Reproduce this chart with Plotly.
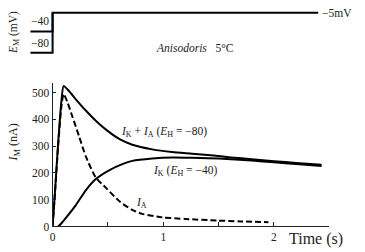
import plotly.graph_objects as go

# ---- data ----
# holding potentials step traces (top panel), mV
em_t_40 = [-0.2, 0.0, 0.0, 2.4]
em_v_40 = [-40, -40, -5, -5]
em_t_80 = [-0.2, 0.0, 0.0]
em_v_80 = [-80, -80, -5]

# I_K + I_A (E_H = -80), nA
t_sum = [0, 0.02, 0.05, 0.08, 0.1, 0.15, 0.21, 0.3, 0.39, 0.5, 0.61, 0.72, 0.9, 1.08, 1.26, 1.43, 1.61, 1.8, 2.0, 2.2, 2.43]
i_sum = [0, 120, 310, 470, 525, 505, 475, 433, 395, 356, 325, 305, 288, 278, 272, 266, 258, 251, 244, 237, 231]

# I_K (E_H = -40), nA
t_k = [0.05, 0.08, 0.12, 0.21, 0.3, 0.39, 0.51, 0.63, 0.72, 0.9, 1.08, 1.26, 1.5, 1.8, 2.0, 2.2, 2.43]
i_k = [0, 12, 32, 80, 135, 177, 210, 233, 245, 254, 258, 257, 254, 246, 240, 233, 226]

# I_A, nA
t_a = [0, 0.02, 0.05, 0.08, 0.1, 0.135, 0.18, 0.24, 0.3, 0.39, 0.48, 0.61, 0.72, 0.81, 0.99, 1.2, 1.49, 1.7, 1.95]
i_a = [0, 115, 300, 450, 495, 463, 409, 336, 262, 183, 145, 92, 62, 47, 34, 28, 22, 19, 16]

x_tickvals = [0, 0.5, 1, 1.5, 2, 2.5]
x_ticktext = ["0", "", "1", "", "2", ""]
y_tickvals = [0, 100, 200, 300, 400, 500]

FONT = "Liberation Serif, Times New Roman, serif"
W, H = 365, 252

fig = go.Figure()
line_style = dict(color="black", width=2)
fig.add_trace(go.Scatter(x=em_t_40, y=em_v_40, mode="lines", line=line_style, xaxis="x2", yaxis="y2"))
fig.add_trace(go.Scatter(x=em_t_80, y=em_v_80, mode="lines", line=line_style, xaxis="x2", yaxis="y2"))
fig.add_trace(go.Scatter(x=t_sum, y=i_sum, mode="lines", line=dict(color="black", width=2, shape="spline", smoothing=0.6)))
fig.add_trace(go.Scatter(x=t_k, y=i_k, mode="lines", line=dict(color="black", width=2, shape="spline", smoothing=0.6)))
fig.add_trace(go.Scatter(x=t_a, y=i_a, mode="lines", line=dict(color="black", width=2, dash="6px,3px", shape="spline", smoothing=0.6)))

# pixel helpers for paper coords
px = lambda p: p / W
py = lambda p: 1 - p / H

fig.update_layout(
    width=W, height=H,
    margin=dict(l=0, r=0, t=0, b=0),
    paper_bgcolor="white", plot_bgcolor="white",
    showlegend=False,
    font=dict(family=FONT, color="#222", size=11.5),
    xaxis=dict(domain=[px(50), px(329)], range=[0, 2.5], showline=True, linecolor="#222", linewidth=1.3,
               ticks="inside", ticklen=4, tickwidth=1, tickcolor="#222",
               tickvals=x_tickvals, ticktext=x_ticktext, showgrid=False, zeroline=False,
               tickfont=dict(size=11.5), anchor="y"),
    yaxis=dict(domain=[py(232), py(85)], range=[0, 536], showline=True, linecolor="#222", linewidth=1.3,
               ticks="inside", ticklen=3, tickwidth=1, tickcolor="#222",
               tickvals=y_tickvals, showgrid=False, zeroline=False,
               tickfont=dict(size=11.5), anchor="x"),
    xaxis2=dict(domain=[0, 1], range=[-50 / 111.6, 315 / 111.6], visible=False, anchor="y2"),
    yaxis2=dict(domain=[0.7, 1], range=[-119.4, 18.8], visible=False, anchor="x2"),
)

ann = [
    dict(x=px(37), y=py(22), text="−40", size=11.5),
    dict(x=px(37), y=py(44), text="−80", size=11.5),
    dict(x=px(337), y=py(13), text="−5mV", size=11.5),
    dict(x=px(194), y=py(49), text="<i>Anisodoris</i>   5°C", size=11.5),
    dict(x=px(162), y=py(135), text="<i>I</i><sub>K</sub> + <i>I</i><sub>A</sub> (<i>E</i><sub>H</sub> = −80)", size=11.5),
    dict(x=px(184), y=py(175), text="<i>I</i><sub>K</sub> (<i>E</i><sub>H</sub> = −40)", size=11.5),
    dict(x=px(140), y=py(208), text="<i>I</i><sub>A</sub>", size=11.5),
    dict(x=px(316), y=py(245), text="Time (s)", size=16),
]
for a in ann:
    fig.add_annotation(x=a["x"], y=a["y"], xref="paper", yref="paper", text=a["text"],
                       showarrow=False, font=dict(family=FONT, size=a["size"], color="#222"),
                       xanchor="center", yanchor="middle")

fig.add_annotation(x=px(11), y=py(33), xref="paper", yref="paper", text="<i>E</i><sub>M</sub> (mV)",
                   textangle=-90, showarrow=False, xanchor="center", yanchor="middle",
                   font=dict(family=FONT, size=11.5, color="#222"))
fig.add_annotation(x=px(11), y=py(146), xref="paper", yref="paper", text="<i>I</i><sub>M</sub> (nA)",
                   textangle=-90, showarrow=False, xanchor="center", yanchor="middle",
                   font=dict(family=FONT, size=12, color="#222"))

fig.write_html("out.html")
